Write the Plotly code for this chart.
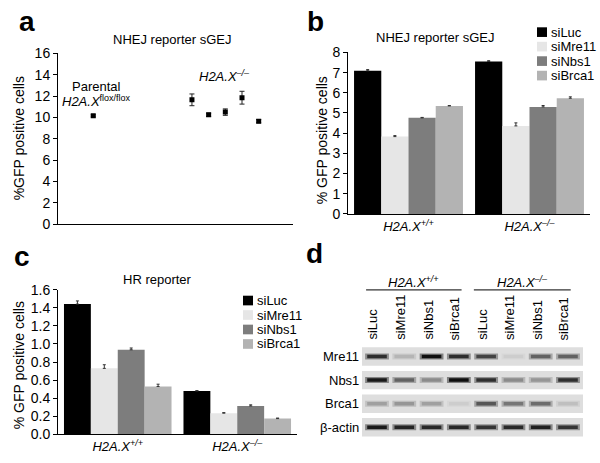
import plotly.graph_objects as go

W, H = 600, 463
def px(x): return x / W
def py(y): return 1 - y / H

FONT = "Liberation Sans, Arial, sans-serif"

def sup(t, size=9):
    return f'<span style="font-size:{size}px;baseline-shift:super">{t}</span>'

# ---- Panel a data ----
a_samples = ["Parental", "KO-1", "KO-2", "KO-3", "KO-4", "KO-5"]
a_values = [10.15, 11.65, 10.25, 10.5, 11.85, 9.65]
a_errors = [0.1, 0.55, 0.15, 0.3, 0.6, 0.15]

# ---- Panels b / c data ----
genotypes = ["<i>H2A.X" + sup("+/+") + "</i>", "<i>H2A.X" + sup("–/–") + "</i>"]
sirnas = ["siLuc", "siMre11", "siNbs1", "siBrca1"]
colors = ["#000000", "#e6e6e6", "#7d7d7d", "#b3b3b3"]
b_values = {
    "siLuc":   [7.09, 7.55],
    "siMre11": [3.83, 4.36],
    "siNbs1":  [4.76, 5.30],
    "siBrca1": [5.35, 5.73],
}
b_errors = {
    "siLuc":   [0.06, 0.04],
    "siMre11": [0.05, 0.15],
    "siNbs1":  [0.02, 0.07],
    "siBrca1": [0.02, 0.07],
}
c_values = {
    "siLuc":   [1.44, 0.48],
    "siMre11": [0.73, 0.235],
    "siNbs1":  [0.935, 0.315],
    "siBrca1": [0.53, 0.175],
}
c_errors = {
    "siLuc":   [0.035, 0.004],
    "siMre11": [0.04, 0.006],
    "siNbs1":  [0.02, 0.012],
    "siBrca1": [0.025, 0.006],
}

# ---- Panel d data (western blot band intensity, 0..1) ----
blot_rows = ["Mre11", "Nbs1", "Brca1", "β-actin"]
blot_lanes = ["siLuc", "siMre11", "siNbs1", "siBrca1", "siLuc", "siMre11", "siNbs1", "siBrca1"]
blot_groups = genotypes
blot_intensity = {
    "Mre11":   [0.85, 0.2, 1.0, 0.85, 0.75, 0.08, 0.6, 0.6],
    "Nbs1":    [0.95, 0.6, 0.4, 1.0, 0.85, 0.4, 0.35, 0.85],
    "Brca1":   [0.3, 0.35, 0.3, 0.08, 0.65, 0.5, 0.55, 0.15],
    "β-actin": [0.95, 0.9, 0.88, 0.88, 0.82, 0.88, 0.92, 0.82],
}

fig = go.Figure()

# Panel a
a_x = [1.5] + [5.7 + 0.71 * i for i in range(len(a_samples) - 1)]
fig.add_trace(go.Scatter(
    x=a_x, y=a_values, mode="markers", xaxis="x", yaxis="y",
    marker=dict(symbol="square", size=5, color="black"),
    error_y=dict(type="data", array=a_errors, color="#222", thickness=1, width=2.5),
    text=a_samples, showlegend=False))

# Panels b and c
for s, col in zip(sirnas, colors):
    fig.add_trace(go.Bar(
        x=[0, 1], y=b_values[s], name=s, xaxis="x2", yaxis="y2",
        marker=dict(color=col, line=dict(width=0)),
        error_y=dict(type="data", array=b_errors[s], arrayminus=[0, 0], symmetric=False,
                     color="#333", thickness=1, width=1.5),
        showlegend=False))
    fig.add_trace(go.Bar(
        x=[0, 1], y=c_values[s], name=s, xaxis="x3", yaxis="y3",
        marker=dict(color=col, line=dict(width=0)),
        error_y=dict(type="data", array=c_errors[s], arrayminus=[0, 0], symmetric=False,
                     color="#333", thickness=1, width=1.5),
        showlegend=False))

# Panel d bands
BG = 222
def gray(v, k=1.0):
    c = int(round(BG - v * k * (BG - 15)))
    return f"rgb({c},{c},{c})"

lane_x = list(range(len(blot_lanes)))
for r, row in enumerate(blot_rows):
    yv = len(blot_rows) - 1 - r
    vals = blot_intensity[row]
    fig.add_trace(go.Scatter(
        x=lane_x, y=[yv] * len(lane_x), mode="markers", xaxis="x4", yaxis="y4",
        marker=dict(symbol="line-ew-open", size=17, color=[gray(v, 0.45) for v in vals],
                    line=dict(width=6)),
        showlegend=False, hoverinfo="skip"))
    fig.add_trace(go.Scatter(
        x=lane_x, y=[yv] * len(lane_x), mode="markers", xaxis="x4", yaxis="y4",
        marker=dict(symbol="line-ew-open", size=14, color=[gray(v) for v in vals],
                    line=dict(width=3.5)),
        showlegend=False, hoverinfo="skip"))

axis_common = dict(showgrid=False, zeroline=False, showline=True, linecolor="black",
                   linewidth=1, tickfont=dict(size=14, color="black"))
yax_common = dict(axis_common, ticks="outside", ticklen=4, tickcolor="black", tickwidth=1)

shapes = []
annotations = []

# strip backgrounds and row labels
for r in range(len(blot_rows)):
    yv = len(blot_rows) - 1 - r
    shapes.append(dict(type="rect", xref="x4", yref="y4", x0=-0.55, x1=7.55,
                       y0=yv - 0.39, y1=yv + 0.39, fillcolor=f"rgb({BG},{BG},{BG})",
                       line=dict(width=0), layer="below"))
    annotations.append(dict(x=px(361), y=yv, xref="paper", yref="y4", yanchor="middle",
                            text=blot_rows[r], showarrow=False, xanchor="right",
                            font=dict(size=13)))

for i, lab in enumerate(blot_lanes):
    annotations.append(dict(x=i, y=py(346), xref="x4", yref="paper", text=lab,
                            textangle=-90, showarrow=False, xanchor="center",
                            yanchor="bottom", xshift=-4, font=dict(size=13)))

# group headers
for g, (x0, x1) in zip(blot_groups, [(-0.4, 3.1), (3.55, 7.1)]):
    shapes.append(dict(type="line", xref="x4", yref="paper", x0=x0, x1=x1,
                       y0=py(292), y1=py(292), line=dict(color="black", width=1)))
    annotations.append(dict(x=(x0 + x1) / 2, y=py(284), xref="x4", yref="paper", text=g,
                            showarrow=False, xanchor="center", yanchor="middle",
                            font=dict(size=13)))

# legends (b and c)
def legend(x_sq, y_rows, x_text):
    for s, col, yy in zip(sirnas, colors, y_rows):
        shapes.append(dict(type="rect", xref="paper", yref="paper",
                           x0=px(x_sq), x1=px(x_sq + 10), y0=py(yy + 5), y1=py(yy - 5),
                           fillcolor=col, line=dict(width=0)))
        annotations.append(dict(x=px(x_text), y=py(yy), xref="paper", yref="paper",
                                text=s, showarrow=False, xanchor="left", yanchor="middle",
                                borderpad=0, font=dict(size=13)))
legend(537, [25, 40, 55, 70], 550)
legend(243, [303, 318, 333, 348], 256)

# titles, panel letters, axis titles
def ann(x, y, text, size=12, bold=False, angle=0, xanchor="center"):
    annotations.append(dict(x=px(x), y=py(y), xref="paper", yref="paper",
                            text=f"<b>{text}</b>" if bold else text, showarrow=False,
                            xanchor=xanchor, yanchor="middle", textangle=angle,
                            borderpad=0, font=dict(size=size)))

ann(172, 33, "NHEJ reporter sGEJ", 13)
ann(435, 31, "NHEJ reporter sGEJ", 13)
ann(158, 281, "HR reporter", 13)
ann(27, 14, "a", 28, bold=True)
ann(315, 14, "b", 28, bold=True)
ann(22, 257, "c", 28, bold=True)
ann(314, 254, "d", 28, bold=True)
ann(19, 135, "%GFP positive cells", 14, angle=-90)
ann(322, 137, "% GFP positive cells", 14, angle=-90)
ann(19, 370, "% GFP positive cells", 14, angle=-90)
ann(96, 81, "Parental", 13)
ann(96, 96, "<i>H2A.X</i>" + sup("flox/flox"), 13)
ann(224, 70, "<i>H2A.X" + sup("–/–") + "</i>", 13)

fig.update_layout(
    width=W, height=H, margin=dict(l=0, r=0, t=0, b=0),
    paper_bgcolor="white", plot_bgcolor="white",
    font=dict(family=FONT, color="black", size=13),
    showlegend=False, barmode="group", bargap=0.1, bargroupgap=0,
    xaxis=dict(axis_common, domain=[px(58), px(293)], range=[0, 10], anchor="y",
               showticklabels=False, ticks=""),
    yaxis=dict(yax_common, domain=[py(224), py(47)], range=[0, 16], dtick=2, anchor="x"),
    xaxis2=dict(axis_common, domain=[px(348), px(590)], range=[-0.5, 1.5], anchor="y2",
                tickmode="array", tickvals=[0, 1], ticktext=genotypes, ticks="",
                tickfont=dict(size=13)),
    yaxis2=dict(yax_common, domain=[py(213.3), py(46)], range=[0, 8], dtick=1, anchor="x2"),
    xaxis3=dict(axis_common, domain=[px(58), px(297)], range=[-0.5, 1.5], anchor="y3",
                tickmode="array", tickvals=[0, 1], ticktext=genotypes, ticks="",
                tickfont=dict(size=13)),
    yaxis3=dict(yax_common, domain=[py(441.7), py(291.7)], range=[0, 1.6], dtick=0.2,
                tickformat=".1f", anchor="x3"),
    xaxis4=dict(domain=[px(362), px(583)], range=[-0.55, 7.55], visible=False, anchor="y4"),
    yaxis4=dict(domain=[py(446), py(350)], range=[-0.48, 3.45], visible=False, anchor="x4"),
    shapes=shapes, annotations=annotations,
)

fig.write_html("out.html", config={"displayModeBar": False},
               post_script="document.body.style.margin='0';document.body.style.overflow='hidden';")
